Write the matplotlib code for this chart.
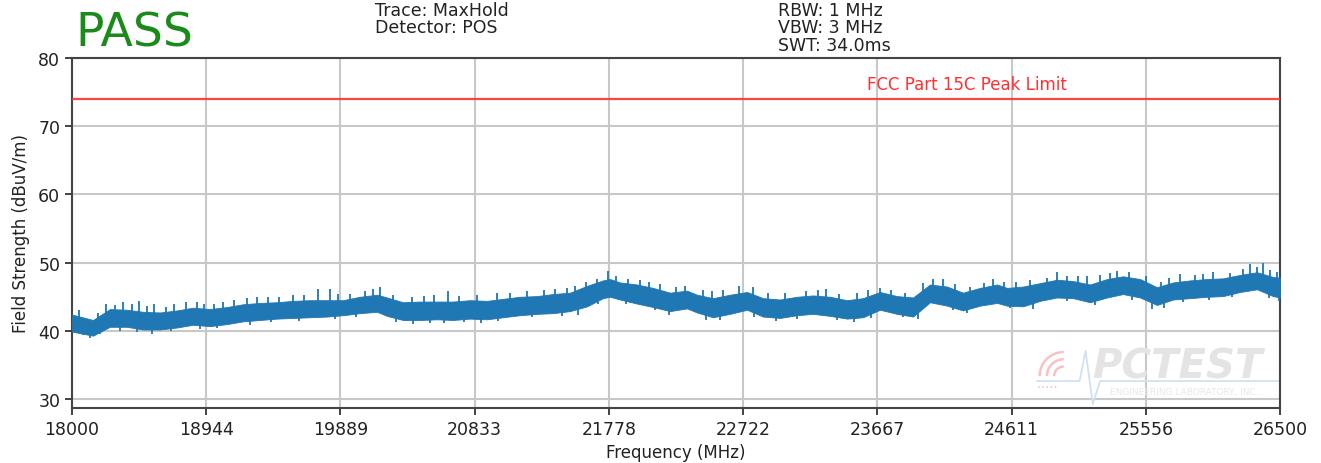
import matplotlib
matplotlib.use("Agg")
import matplotlib.pyplot as plt
from matplotlib.patches import Arc
import numpy as np

# ---- data ----
freq_mhz = [18000, 18148, 18267, 18387, 18500, 18619, 18739, 18851, 18971, 19091,
            19203, 19323, 19442, 19555, 19675, 19794, 19907, 20026, 20146, 20216,
            20329, 20449, 20568, 20681, 20800, 20920, 21033, 21152, 21272, 21384,
            21504, 21624, 21736, 21786, 21856, 21976, 22088, 22208, 22327, 22398,
            22510, 22630, 22750, 22862, 22982, 23101, 23214, 23334, 23453, 23566,
            23685, 23805, 23918, 24037, 24157, 24269, 24389, 24509, 24579, 24692,
            24811, 24931, 25044, 25163, 25283, 25395, 25515, 25634, 25747, 25867,
            25986, 26099, 26218, 26338, 26451, 26500]
trace_upper = [42.4, 41.6, 43.2, 43.1, 42.8, 42.7, 43.0, 43.4, 43.2, 43.5,
               43.9, 44.1, 44.2, 44.4, 44.5, 44.5, 44.5, 45.0, 45.3, 44.9,
               44.2, 44.3, 44.3, 44.3, 44.5, 44.4, 44.7, 45.0, 45.1, 45.4,
               45.6, 46.6, 47.4, 47.6, 47.1, 46.8, 46.3, 45.6, 45.9, 45.3,
               44.8, 45.3, 45.7, 44.8, 44.6, 45.0, 45.2, 45.0, 44.5, 44.8,
               45.7, 45.1, 44.9, 46.8, 46.5, 45.6, 46.3, 46.8, 46.3, 46.5,
               47.0, 47.5, 47.3, 46.8, 47.6, 48.0, 47.6, 46.4, 47.1, 47.4,
               47.6, 47.7, 48.2, 48.6, 47.9, 47.8]
trace_lower = [39.9, 39.3, 40.6, 40.6, 40.2, 40.2, 40.5, 40.9, 40.7, 41.0,
               41.4, 41.6, 41.8, 41.9, 42.0, 42.1, 42.3, 42.6, 42.8, 42.2,
               41.6, 41.6, 41.7, 41.6, 41.8, 41.7, 42.0, 42.3, 42.5, 42.6,
               42.9, 43.6, 44.8, 45.0, 44.6, 44.0, 43.5, 42.9, 43.3, 42.7,
               42.0, 42.5, 43.1, 42.1, 41.9, 42.3, 42.5, 42.2, 41.8, 42.0,
               43.1, 42.5, 42.1, 44.2, 43.7, 43.0, 43.7, 44.1, 43.7, 43.6,
               44.4, 44.9, 44.8, 44.2, 44.9, 45.4, 44.9, 43.8, 44.6, 44.8,
               45.0, 45.1, 45.7, 46.1, 45.1, 44.9]
spike_up_freq = [18050, 18180, 18240, 18300, 18360, 18420, 18470, 18530, 18580, 18660,
                 18720, 18800, 18880, 18930, 19000, 19060, 19140, 19230, 19300, 19380,
                 19460, 19555, 19630, 19731, 19815, 19870, 19956, 20060, 20118, 20167,
                 20260, 20390, 20480, 20550, 20646, 20720, 20850, 20991, 21080, 21200,
                 21320, 21398, 21480, 21539, 21620, 21694, 21771, 21830, 21912, 22000,
                 22060, 22140, 22250, 22313, 22440, 22503, 22580, 22693, 22790, 22900,
                 23020, 23164, 23250, 23305, 23400, 23520, 23600, 23685, 23760, 23860,
                 23990, 24058, 24129, 24210, 24320, 24420, 24480, 24560, 24640, 24740,
                 24860, 24931, 25000, 25080, 25142, 25230, 25300, 25353, 25440, 25560,
                 25660, 25720, 25796, 25900, 25960, 26028, 26150, 26240, 26289, 26340,
                 26380, 26430, 26479]
spike_up_top = [43.0, 42.6, 44.0, 43.8, 44.2, 43.9, 44.4, 43.6, 43.9, 43.5,
                44.0, 44.2, 44.3, 43.9, 44.0, 44.2, 44.6, 44.8, 44.9, 45.0,
                44.9, 45.2, 45.3, 46.1, 46.2, 45.4, 45.4, 45.8, 46.2, 46.4,
                45.3, 45.0, 45.1, 45.2, 45.9, 45.1, 45.2, 45.6, 45.6, 45.8,
                46.0, 46.1, 46.3, 46.6, 47.2, 47.6, 48.8, 48.0, 47.6, 47.5,
                47.2, 46.8, 46.4, 46.6, 46.0, 45.9, 46.0, 46.6, 46.4, 45.6,
                45.5, 45.9, 46.0, 46.1, 45.4, 45.5, 46.0, 46.3, 46.0, 45.6,
                47.0, 47.6, 47.6, 46.8, 46.5, 47.0, 47.6, 47.2, 47.2, 47.4,
                47.8, 48.6, 48.1, 48.0, 48.1, 48.2, 48.5, 48.8, 48.6, 48.0,
                47.2, 47.8, 48.3, 48.2, 48.4, 48.6, 48.5, 49.0, 49.8, 49.4,
                50.0, 48.9, 48.6]
spike_dn_freq = [18080, 18130, 18200, 18340, 18460, 18560, 18700, 18900, 19020, 19250,
                 19400, 19600, 19850, 20000, 20280, 20400, 20520, 20620, 20760, 20880,
                 21000, 21240, 21450, 21560, 21700, 21900, 22100, 22200, 22460, 22560,
                 22800, 22950, 23100, 23380, 23500, 23620, 23850, 23950, 24200, 24300,
                 24600, 24760, 25000, 25200, 25460, 25600, 25680, 25820, 26000, 26160,
                 26420, 26490]
spike_dn_bottom = [39.4, 38.9, 39.6, 40.0, 39.8, 39.6, 40.0, 40.3, 40.4, 40.9,
                   41.3, 41.4, 41.8, 42.1, 41.3, 41.0, 41.2, 41.1, 41.3, 41.2,
                   41.5, 42.0, 42.2, 42.4, 44.0, 44.0, 43.0, 42.4, 41.6, 41.6,
                   42.0, 41.4, 41.8, 41.6, 41.3, 41.9, 42.0, 41.7, 43.1, 42.6,
                   43.3, 43.2, 44.4, 43.8, 44.5, 43.2, 43.3, 44.3, 44.6, 44.9,
                   44.8, 44.4]
limit_db = 74.0
limit_label = "FCC Part 15C Peak Limit"
xticks = [18000, 18944, 19889, 20833, 21778, 22722, 23667, 24611, 25556, 26500]
yticks = [30, 40, 50, 60, 70, 80]

fig = plt.figure(figsize=(13.21, 4.64), dpi=100)
ax = fig.add_axes([0.0545, 0.1185, 0.9145, 0.7545])

blue = "#1f77b4"
upper = np.array(trace_upper)
lower = np.array(trace_lower)
ax.fill_between(freq_mhz, lower, upper, color=blue, lw=0.6,
                edgecolor=blue, zorder=3)
mid_up = np.interp(spike_up_freq, freq_mhz, (upper + lower) / 2)
ax.vlines(spike_up_freq, mid_up, spike_up_top, color=blue, lw=1.3, zorder=3)
mid_dn = np.interp(spike_dn_freq, freq_mhz, (upper + lower) / 2)
ax.vlines(spike_dn_freq, spike_dn_bottom, mid_dn, color=blue, lw=1.3, zorder=3)

ax.axhline(limit_db, color="#ff3030", lw=1.6, alpha=0.9, zorder=4)
ax.text(24300, limit_db + 0.8, limit_label, color="#ff3030", fontsize=12,
        ha="center", va="bottom")

ax.set_xlim(18000, 26500)
ax.set_ylim(28.7, 80)
ax.set_xticks(xticks)
ax.set_xticklabels([str(t) for t in xticks])
ax.set_yticks(yticks)
ax.tick_params(labelsize=12.5, colors="#222222", length=5, width=1.2)
ax.grid(True, color="#c8c8c8", lw=1.5)
ax.set_axisbelow(True)
for s in ax.spines.values():
    s.set_color("#444444")
    s.set_linewidth(1.5)

ax.set_xlabel("Frequency (MHz)", fontsize=12, color="#222222", labelpad=4)
ax.set_ylabel("Field Strength (dBuV/m)", fontsize=12, color="#222222", labelpad=6)

# header texts
fig.text(75 / 1321, 1 - 47 / 464, "PASS", color="#1a8a1a", fontsize=34,
         ha="left", va="baseline")
fig.text(375 / 1321, 1 - 2 / 464, "Trace: MaxHold\nDetector: POS", fontsize=12.5,
         color="#222222", ha="left", va="top", linespacing=0.95)
fig.text(778 / 1321, 1 - 2 / 464, "RBW: 1 MHz\nVBW: 3 MHz\nSWT: 34.0ms", fontsize=12.5,
         color="#222222", ha="left", va="top", linespacing=0.95)

# faint watermark (PCTEST logo)
ax.text(0.915, 0.12, "PCTEST", transform=ax.transAxes, fontsize=29,
        fontweight="bold", fontstyle="italic", color="#e4e4e4", ha="center",
        va="center", zorder=1)
ax.text(0.921, 0.046, "ENGINEERING LABORATORY, INC.", transform=ax.transAxes,
        fontsize=6.5, color="#e8e8e8", ha="center", va="center", zorder=1)
ax.plot([0.799, 0.834, 0.839, 0.845, 0.851, 1.0], [0.077, 0.077, 0.163, 0.011, 0.077, 0.077],
        transform=ax.transAxes, color="#d0e2f2", lw=1.3, zorder=1)
for r in (0.008, 0.014, 0.020):
    ax.add_patch(Arc((0.821, 0.091), r * 2, r * 2 * 1208 / 350, theta1=90, theta2=180,
                     transform=ax.transAxes, color="#f4c4c4", lw=1.8, zorder=1))
ax.plot([0.800, 0.805, 0.810, 0.815], [0.06] * 4, transform=ax.transAxes,
        color="#f4c4c4", lw=1.2, ls=(0, (1, 1.5)), zorder=1)

fig.savefig("out.png", dpi=100)
